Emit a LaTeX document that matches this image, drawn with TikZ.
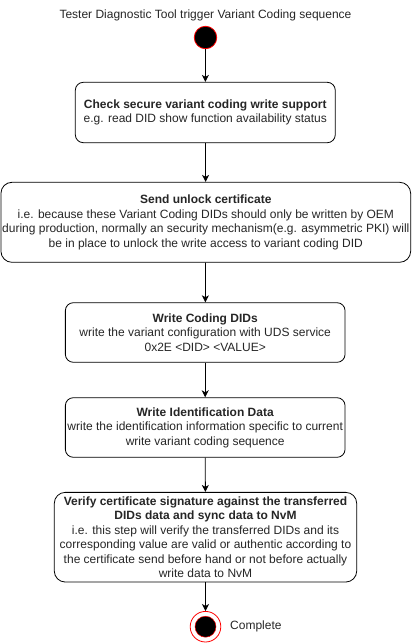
\documentclass[tikz,border=0pt]{standalone}
\usepackage{fontspec}
\setmainfont{Liberation Sans}
\usetikzlibrary{arrows.meta}
\begin{document}
\begin{tikzpicture}[x=1pt,y=-1pt,
  every node/.style={font=\fontsize{12}{14.4}\selectfont, inner sep=0pt, align=center, text=black!85},
  stepbox/.style={draw=black, line width=0.8pt, fill=white, rounded corners=8pt},
  conn/.style={draw=black, line width=0.8pt, -{Stealth[length=7pt,width=7pt,inset=2pt]}}]
\useasboundingbox (0,0) rectangle (412,643);
\node (title) at (205.5,15) {Tester Diagnostic Tool trigger Variant Coding sequence};
\node[circle, draw=red, fill=black, line width=0.8pt, minimum size=22.5pt] (start) at (205.5,37.5) {};
\node[stepbox, minimum width=260pt, minimum height=60.4pt] (s1) at (205.3,112.5)
  {\textbf{Check secure variant coding write support}\\e.g. read DID show function availability status};
\node[stepbox, rounded corners=11pt, minimum width=409.7pt, minimum height=80pt] (s2) at (205.8,222.3)
  {\textbf{Send unlock certificate}\\i.e. because these Variant Coding DIDs should only be written by OEM\\during production, normally an security mechanism(e.g. asymmetric PKI) will\\be in place to unlock the write access to variant coding DID};
\node[stepbox, minimum width=279.7pt, minimum height=59.6pt] (s3) at (205.2,332.5)
  {\textbf{Write Coding DIDs}\\write the variant configuration with UDS service\\0x2E <DID> <VALUE>};
\node[stepbox, minimum width=279.7pt, minimum height=59.6pt] (s4) at (205.2,427.5)
  {\textbf{Write Identification Data}\\write the identification information specific to current\\write variant coding sequence};
\node[stepbox, rounded corners=11pt, minimum width=302.4pt, minimum height=89.7pt] (s5) at (205.5,537.2)
  {\textbf{Verify certificate signature against the transferred}\\\textbf{DIDs data and sync data to NvM}\\i.e. this step will verify the transferred DIDs and its\\corresponding value are valid or authentic according to\\the certificate send before hand or not before actually\\write data to NvM};
\node[circle, draw=red, line width=0.8pt, fill=white, minimum size=30.6pt] (end) at (205.5,626.7) {};
\node[circle, draw=red, fill=black, line width=0.5pt, minimum size=21pt] (endin) at (205.5,626.7) {};
\node[anchor=west] (cl) at (230,626.7) {Complete};
\draw[conn] (start) -- (s1);
\draw[conn] (s1) -- (s2);
\draw[conn] (s2) -- (s3);
\draw[conn] (s3) -- (s4);
\draw[conn] (s4) -- (s5);
\draw[conn] (s5) -- (end);
\end{tikzpicture}
\end{document}
